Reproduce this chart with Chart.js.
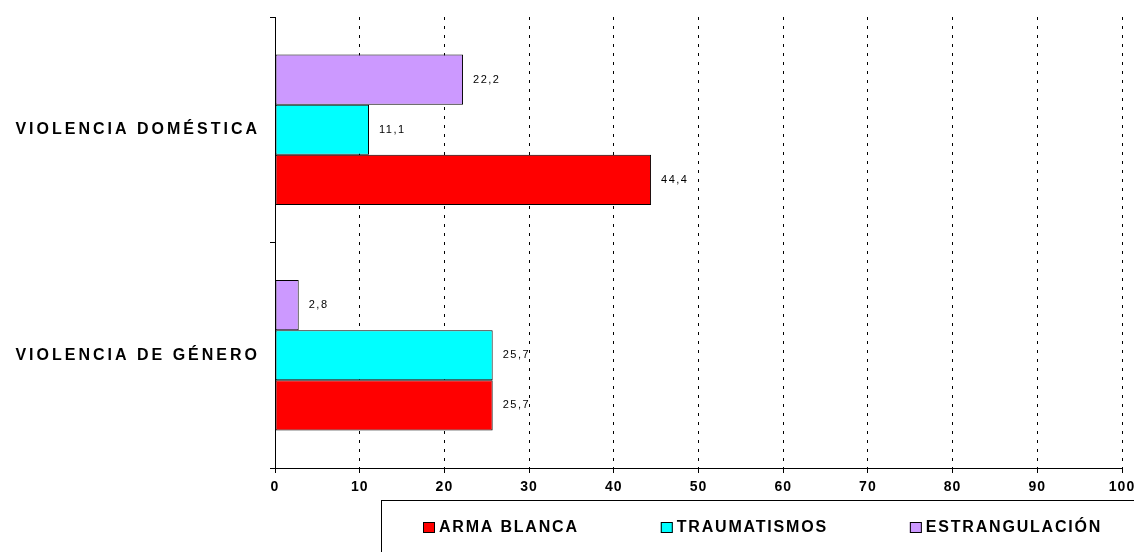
<!DOCTYPE html>
<html>
<head>
<meta charset="utf-8">
<title>Violencia doméstica / de género</title>
<script src="https://cdn.jsdelivr.net/npm/chart.js@4/dist/chart.umd.min.js"></script>
<style>
  html, body { margin: 0; padding: 0; background: #fff; }
  #c { display: block; }
</style>
</head>
<body>
<canvas id="c" width="1134" height="552"></canvas>
<script>
// Values (percent).
var CATEGORIES = ["VIOLENCIA DOMÉSTICA", "VIOLENCIA DE GÉNERO"];
var SERIES_NAMES = ["ARMA BLANCA", "TRAUMATISMOS", "ESTRANGULACIÓN"];
var ARMA_BLANCA = [44.4, 25.7];
var TRAUMATISMOS = [11.1, 25.7];
var ESTRANGULACION = [22.2, 2.8];
var X_MIN = 0, X_MAX = 100, X_STEP = 10;

var FONT = 'Arial, "Liberation Sans", sans-serif';
var COLORS = ["#ff0000", "#00ffff", "#cc99ff"];

// Excel draws the last series on top, so datasets go in reverse;
// the legend below walks them back in series order.
var series = [
  { name: SERIES_NAMES[0], data: ARMA_BLANCA, color: COLORS[0] },
  { name: SERIES_NAMES[1], data: TRAUMATISMOS, color: COLORS[1] },
  { name: SERIES_NAMES[2], data: ESTRANGULACION, color: COLORS[2] }
];

function fmt(v) { return String(v).replace(".", ","); }

// Excel-ish wide text: the canvas letterSpacing property.
var spacing = {
  id: "spacing",
  beforeLayout: function (chart) { chart.ctx.letterSpacing = "1px"; },
  beforeDraw: function (chart) { chart.ctx.letterSpacing = "1px"; }
};

// category names left of the axis
var yLabels = {
  id: "yLabels",
  afterDraw: function (chart) {
    var ctx = chart.ctx, sc = chart.scales.y;
    ctx.save();
    ctx.letterSpacing = "3px";
    ctx.font = "bold 16px " + FONT;
    ctx.fillStyle = "#000";
    ctx.textAlign = "right";
    ctx.textBaseline = "middle";
    chart.data.labels.forEach(function (lab, i) {
      ctx.fillText(lab, sc.right - 15, sc.getPixelForValue(i));
    });
    ctx.restore();
  }
};

// "44,4" etc. right of each bar
var valueLabels = {
  id: "valueLabels",
  afterDatasetsDraw: function (chart) {
    var ctx = chart.ctx;
    ctx.save();
    ctx.letterSpacing = "1.5px";
    ctx.font = "11px " + FONT;
    ctx.fillStyle = "#000";
    ctx.textAlign = "left";
    ctx.textBaseline = "middle";
    chart.data.datasets.forEach(function (ds, di) {
      chart.getDatasetMeta(di).data.forEach(function (bar, i) {
        ctx.fillText(fmt(ds.data[i]), bar.x + 10, bar.y);
      });
    });
    ctx.restore();
  }
};

// boxed legend under the axis, open to the right and bottom like the source
var boxLegend = {
  id: "boxLegend",
  afterDraw: function (chart) {
    var ctx = chart.ctx;
    var left = 381, top = 500, x = 423, cy = 527;
    ctx.save();
    ctx.strokeStyle = "#000";
    ctx.lineWidth = 1;
    ctx.strokeRect(left + 0.5, top + 0.5, chart.width + 20, 100);
    ctx.letterSpacing = "1.8px";
    ctx.font = "bold 16px " + FONT;
    ctx.textAlign = "left";
    ctx.textBaseline = "middle";
    var dsets = chart.data.datasets.slice().reverse();
    dsets.forEach(function (ds) {
      ctx.fillStyle = ds.backgroundColor;
      ctx.fillRect(x, cy - 5, 12, 11);
      ctx.strokeStyle = "#000";
      ctx.strokeRect(x + 0.5, cy - 4.5, 11, 10);
      ctx.fillStyle = "#000";
      ctx.fillText(ds.label, x + 16, cy + 1);
      x += 16 + ctx.measureText(ds.label).width + 82;
    });
    ctx.restore();
  }
};

var datasets = series.slice().reverse().map(function (s) {
  return {
    label: s.name,
    data: s.data,
    backgroundColor: s.color,
    borderColor: "#000",
    borderWidth: 1,
    borderSkipped: false,
    categoryPercentage: 0.667,
    barPercentage: 1.0
  };
});

new Chart(document.getElementById("c"), {
  type: "bar",
  data: { labels: CATEGORIES, datasets: datasets },
  options: {
    indexAxis: "y",
    responsive: false,
    animation: false,
    layout: { padding: { top: 17, right: 12, bottom: 56, left: 0 } },
    plugins: {
      legend: { display: false },
      tooltip: { enabled: false }
    },
    scales: {
      x: {
        min: X_MIN,
        max: X_MAX,
        ticks: {
          stepSize: X_STEP,
          color: "#000",
          padding: 6,
          maxRotation: 0,
          font: { family: FONT, size: 14, weight: "bold" }
        },
        grid: {
          color: "#000",
          lineWidth: 1,
          tickBorderDash: [],
          tickColor: "#000",
          tickLength: 5
        },
        border: { display: true, color: "#000", width: 1, dash: [3, 6] },
        afterFit: function (sc) {
          sc.height = 28;
          sc.paddingLeft = 0;
          sc.paddingRight = 0;
        }
      },
      y: {
        ticks: { display: false },
        grid: {
          offset: true,
          drawOnChartArea: false,
          color: "#000",
          tickColor: "#000",
          tickLength: 5
        },
        border: { display: true, color: "#000", width: 1 },
        afterFit: function (sc) { sc.width = 275; }
      }
    }
  },
  plugins: [spacing, yLabels, valueLabels, boxLegend]
});
</script>
</body>
</html>
